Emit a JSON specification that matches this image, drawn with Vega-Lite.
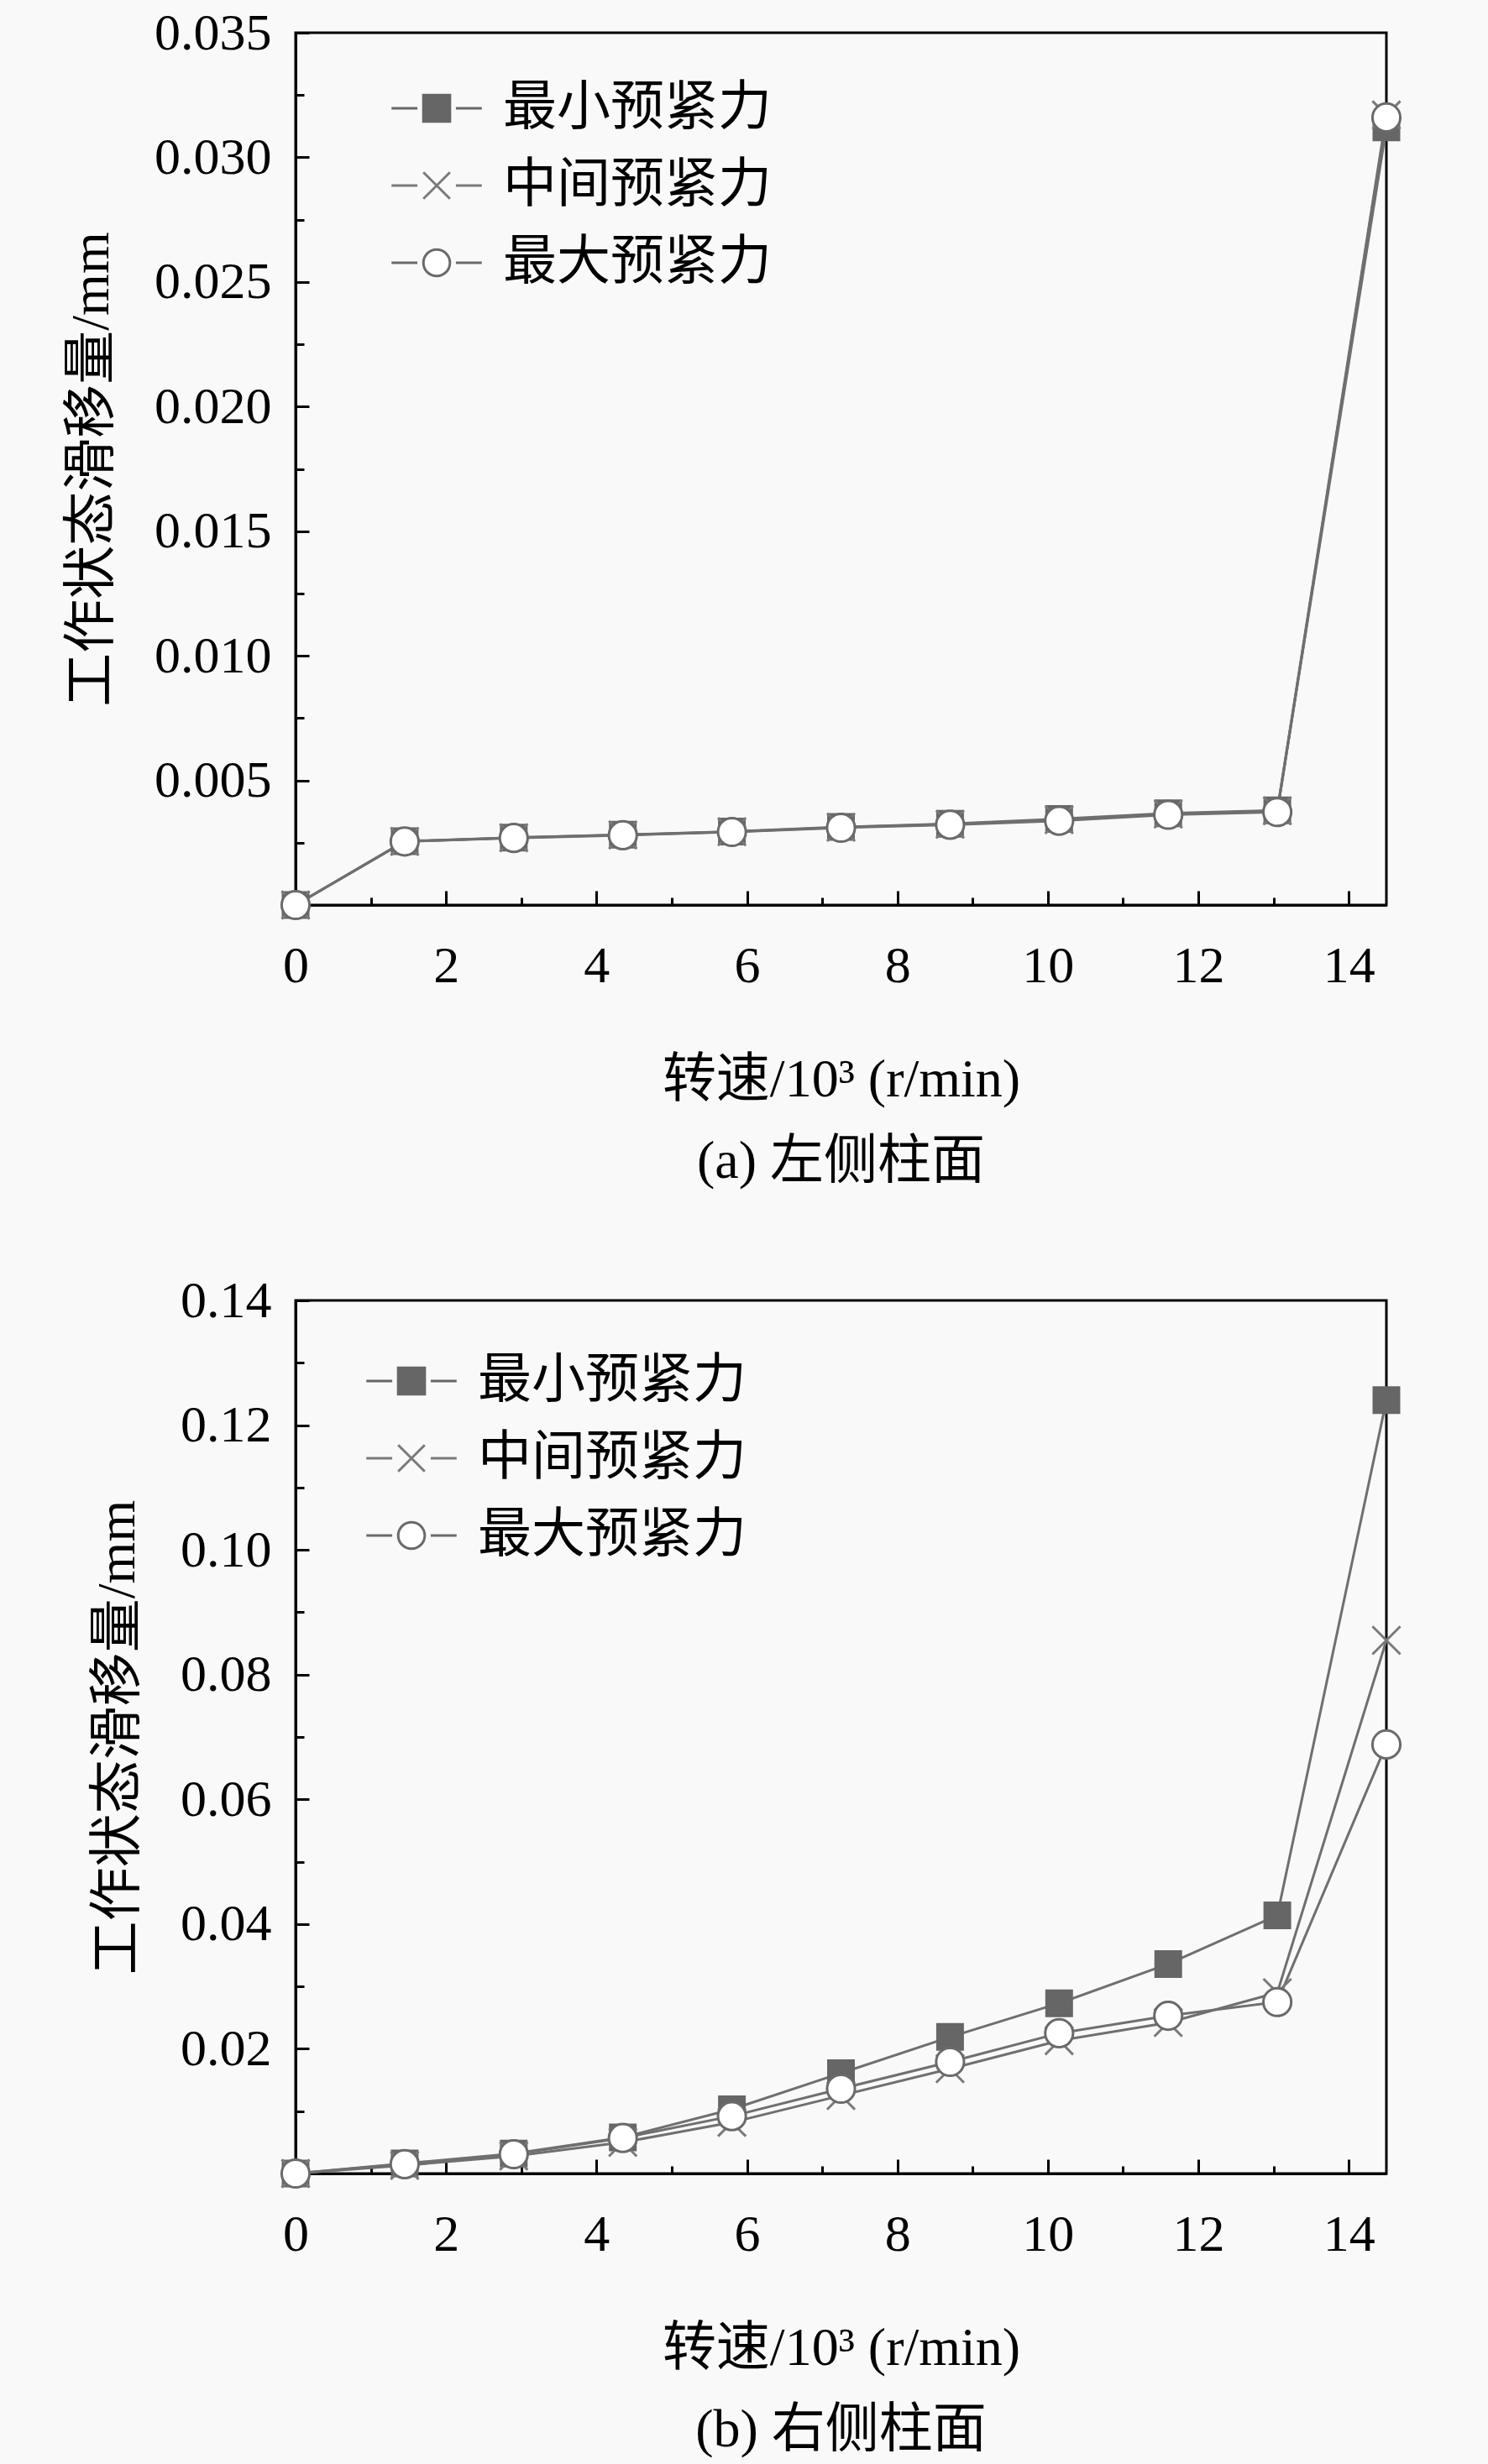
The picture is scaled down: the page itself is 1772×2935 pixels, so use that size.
{
  "$schema": "https://vega.github.io/schema/vega-lite/v6.json",
  "background": "#f9f9f9",
  "padding": {"left": 76, "top": 6, "right": 100, "bottom": 10},
  "datasets": {
    "a": [
      {"speed": 0, "series": "最小预紧力", "value": 0},
      {"speed": 1.45, "series": "最小预紧力", "value": 0.00256},
      {"speed": 2.9, "series": "最小预紧力", "value": 0.0027},
      {"speed": 4.35, "series": "最小预紧力", "value": 0.00282},
      {"speed": 5.8, "series": "最小预紧力", "value": 0.00295},
      {"speed": 7.25, "series": "最小预紧力", "value": 0.00313},
      {"speed": 8.7, "series": "最小预紧力", "value": 0.00326},
      {"speed": 10.15, "series": "最小预紧力", "value": 0.00345},
      {"speed": 11.6, "series": "最小预紧力", "value": 0.00368},
      {"speed": 13.05, "series": "最小预紧力", "value": 0.0038},
      {"speed": 14.5, "series": "最小预紧力", "value": 0.0312},
      {"speed": 0, "series": "中间预紧力", "value": 0},
      {"speed": 1.45, "series": "中间预紧力", "value": 0.00255},
      {"speed": 2.9, "series": "中间预紧力", "value": 0.0027},
      {"speed": 4.35, "series": "中间预紧力", "value": 0.00281},
      {"speed": 5.8, "series": "中间预紧力", "value": 0.00294},
      {"speed": 7.25, "series": "中间预紧力", "value": 0.00312},
      {"speed": 8.7, "series": "中间预紧力", "value": 0.00324},
      {"speed": 10.15, "series": "中间预紧力", "value": 0.00342},
      {"speed": 11.6, "series": "中间预紧力", "value": 0.00365},
      {"speed": 13.05, "series": "中间预紧力", "value": 0.00378},
      {"speed": 14.5, "series": "中间预紧力", "value": 0.0317},
      {"speed": 0, "series": "最大预紧力", "value": 0},
      {"speed": 1.45, "series": "最大预紧力", "value": 0.00255},
      {"speed": 2.9, "series": "最大预紧力", "value": 0.00269},
      {"speed": 4.35, "series": "最大预紧力", "value": 0.0028},
      {"speed": 5.8, "series": "最大预紧力", "value": 0.00293},
      {"speed": 7.25, "series": "最大预紧力", "value": 0.0031},
      {"speed": 8.7, "series": "最大预紧力", "value": 0.00322},
      {"speed": 10.15, "series": "最大预紧力", "value": 0.00338},
      {"speed": 11.6, "series": "最大预紧力", "value": 0.00362},
      {"speed": 13.05, "series": "最大预紧力", "value": 0.00373},
      {"speed": 14.5, "series": "最大预紧力", "value": 0.0316}
    ],
    "b": [
      {"speed": 0, "series": "最小预紧力", "value": 0},
      {"speed": 1.45, "series": "最小预紧力", "value": 0.0016},
      {"speed": 2.9, "series": "最小预紧力", "value": 0.0032},
      {"speed": 4.35, "series": "最小预紧力", "value": 0.0058},
      {"speed": 5.8, "series": "最小预紧力", "value": 0.0103},
      {"speed": 7.25, "series": "最小预紧力", "value": 0.0161},
      {"speed": 8.7, "series": "最小预紧力", "value": 0.0219},
      {"speed": 10.15, "series": "最小预紧力", "value": 0.0273},
      {"speed": 11.6, "series": "最小预紧力", "value": 0.0336},
      {"speed": 13.05, "series": "最小预紧力", "value": 0.0414},
      {"speed": 14.5, "series": "最小预紧力", "value": 0.124},
      {"speed": 0, "series": "中间预紧力", "value": 0},
      {"speed": 1.45, "series": "中间预紧力", "value": 0.0013},
      {"speed": 2.9, "series": "中间预紧力", "value": 0.0028},
      {"speed": 4.35, "series": "中间预紧力", "value": 0.005},
      {"speed": 5.8, "series": "中间预紧力", "value": 0.0082},
      {"speed": 7.25, "series": "中间预紧力", "value": 0.0125},
      {"speed": 8.7, "series": "中间预紧力", "value": 0.0168},
      {"speed": 10.15, "series": "中间预紧力", "value": 0.0213},
      {"speed": 11.6, "series": "中间预紧力", "value": 0.0242},
      {"speed": 13.05, "series": "中间预紧力", "value": 0.029},
      {"speed": 14.5, "series": "中间预紧力", "value": 0.0855},
      {"speed": 0, "series": "最大预紧力", "value": 0},
      {"speed": 1.45, "series": "最大预紧力", "value": 0.0015},
      {"speed": 2.9, "series": "最大预紧力", "value": 0.0031},
      {"speed": 4.35, "series": "最大预紧力", "value": 0.0057},
      {"speed": 5.8, "series": "最大预紧力", "value": 0.0092},
      {"speed": 7.25, "series": "最大预紧力", "value": 0.0136},
      {"speed": 8.7, "series": "最大预紧力", "value": 0.0179},
      {"speed": 10.15, "series": "最大预紧力", "value": 0.0225},
      {"speed": 11.6, "series": "最大预紧力", "value": 0.0253},
      {"speed": 13.05, "series": "最大预紧力", "value": 0.0275},
      {"speed": 14.5, "series": "最大预紧力", "value": 0.0688}
    ]
  },
  "spacing": 98,
  "vconcat": [
    {
      "width": 1299,
      "height": 1039,
      "data": {"name": "a"},
      "title": {"text": "(a) 左侧柱面", "orient": "bottom", "anchor": "middle", "frame": "group", "offset": 34},
      "resolve": {"axis": {"x": "independent", "y": "independent"}},
      "layer": [
        {
          "mark": {"type": "line", "color": "#6f6f6f", "strokeWidth": 3},
          "encoding": {
            "x": {"field": "speed", "type": "quantitative", "scale": {"domain": [0, 14.5], "nice": false},
              "axis": {"values": [0, 2, 4, 6, 8, 10, 12, 14], "format": "d", "title": "转速/10³ (r/min)", "tickSize": -17, "labelPadding": 59, "titlePadding": 73}},
            "y": {"field": "value", "type": "quantitative", "scale": {"domain": [0, 0.035], "nice": false},
              "axis": {"values": [0.005, 0.01, 0.015, 0.02, 0.025, 0.03, 0.035], "format": ".3f", "title": "工作状态滑移量/mm", "tickSize": -16, "labelPadding": 45, "titlePadding": 42}},
            "detail": {"field": "series"}
          }
        },
        {
          "transform": [{"filter": "datum.series === '最小预紧力'"}],
          "mark": {"type": "point", "shape": "square", "size": 960, "filled": true, "fill": "#666666", "stroke": "#666666", "strokeWidth": 2, "opacity": 1},
          "encoding": {
            "x": {"field": "speed", "type": "quantitative", "axis": null},
            "y": {"field": "value", "type": "quantitative", "axis": null}
          }
        },
        {
          "transform": [{"filter": "datum.series === '中间预紧力'"}],
          "mark": {"type": "point", "shape": "M-1,-1L1,1M1,-1L-1,1", "size": 1100, "filled": false, "stroke": "#7a7a7a", "strokeWidth": 3, "opacity": 1},
          "encoding": {
            "x": {"field": "speed", "type": "quantitative", "axis": null},
            "y": {"field": "value", "type": "quantitative", "axis": null}
          }
        },
        {
          "transform": [{"filter": "datum.series === '最大预紧力'"}],
          "mark": {"type": "point", "shape": "circle", "size": 1100, "fill": "#ffffff", "stroke": "#6a6a6a", "strokeWidth": 3, "opacity": 1},
          "encoding": {
            "x": {"field": "speed", "type": "quantitative", "axis": null},
            "y": {"field": "value", "type": "quantitative", "axis": null}
          }
        },
        {
          "mark": {"type": "point", "size": 1000, "strokeWidth": 3, "opacity": 0},
          "encoding": {
            "x": {"field": "speed", "type": "quantitative",
              "axis": {"values": [1, 3, 5, 7, 9, 11, 13], "labels": false, "domain": false, "title": null, "tickSize": -9, "orient": "bottom"}},
            "y": {"field": "value", "type": "quantitative",
              "axis": {"values": [0.0025, 0.0075, 0.0125, 0.0175, 0.0225, 0.0275, 0.0325], "labels": false, "domain": false, "title": null, "tickSize": -10, "orient": "left"}},
            "shape": {"field": "series", "type": "nominal",
              "scale": {"domain": ["最小预紧力", "中间预紧力", "最大预紧力"], "range": ["M-3.4,0H-1.45M1.45,0H3.4M-1,-1H1V1H-1Z", "M-3.4,0H-1.45M1.45,0H3.4M-1,-1L1,1M1,-1L-1,1", "M-3.4,0H-1.45M1.45,0H3.4M1,0A1,1,0,1,1,-1,0A1,1,0,1,1,1,0Z"]},
              "legend": {"orient": "none", "legendX": 136, "legendY": 58}},
            "fill": {"field": "series", "type": "nominal",
              "scale": {"domain": ["最小预紧力", "中间预紧力", "最大预紧力"], "range": ["#666666", "transparent", "#ffffff"]}},
            "stroke": {"field": "series", "type": "nominal",
              "scale": {"domain": ["最小预紧力", "中间预紧力", "最大预紧力"], "range": ["#666666", "#7a7a7a", "#6a6a6a"]}}
          }
        }
      ]
    },
    {
      "width": 1299,
      "height": 1040,
      "data": {"name": "b"},
      "title": {"text": "(b) 右侧柱面", "orient": "bottom", "anchor": "middle", "frame": "group", "offset": 34},
      "resolve": {"axis": {"x": "independent", "y": "independent"}},
      "layer": [
        {
          "mark": {"type": "line", "color": "#6f6f6f", "strokeWidth": 3},
          "encoding": {
            "x": {"field": "speed", "type": "quantitative", "scale": {"domain": [0, 14.5], "nice": false},
              "axis": {"values": [0, 2, 4, 6, 8, 10, 12, 14], "format": "d", "title": "转速/10³ (r/min)", "tickSize": -17, "labelPadding": 59, "titlePadding": 73}},
            "y": {"field": "value", "type": "quantitative", "scale": {"domain": [0, 0.14], "nice": false},
              "axis": {"values": [0.02, 0.04, 0.06, 0.08, 0.1, 0.12, 0.14], "format": ".2f", "title": "工作状态滑移量/mm", "tickSize": -16, "labelPadding": 45, "titlePadding": 42}},
            "detail": {"field": "series"}
          }
        },
        {
          "transform": [{"filter": "datum.series === '最小预紧力'"}],
          "mark": {"type": "point", "shape": "square", "size": 960, "filled": true, "fill": "#666666", "stroke": "#666666", "strokeWidth": 2, "opacity": 1},
          "encoding": {
            "x": {"field": "speed", "type": "quantitative", "axis": null},
            "y": {"field": "value", "type": "quantitative", "axis": null}
          }
        },
        {
          "transform": [{"filter": "datum.series === '中间预紧力'"}],
          "mark": {"type": "point", "shape": "M-1,-1L1,1M1,-1L-1,1", "size": 1100, "filled": false, "stroke": "#7a7a7a", "strokeWidth": 3, "opacity": 1},
          "encoding": {
            "x": {"field": "speed", "type": "quantitative", "axis": null},
            "y": {"field": "value", "type": "quantitative", "axis": null}
          }
        },
        {
          "transform": [{"filter": "datum.series === '最大预紧力'"}],
          "mark": {"type": "point", "shape": "circle", "size": 1100, "fill": "#ffffff", "stroke": "#6a6a6a", "strokeWidth": 3, "opacity": 1},
          "encoding": {
            "x": {"field": "speed", "type": "quantitative", "axis": null},
            "y": {"field": "value", "type": "quantitative", "axis": null}
          }
        },
        {
          "mark": {"type": "point", "size": 1000, "strokeWidth": 3, "opacity": 0},
          "encoding": {
            "x": {"field": "speed", "type": "quantitative",
              "axis": {"values": [1, 3, 5, 7, 9, 11, 13], "labels": false, "domain": false, "title": null, "tickSize": -9, "orient": "bottom"}},
            "y": {"field": "value", "type": "quantitative",
              "axis": {"values": [0.01, 0.03, 0.05, 0.07, 0.09, 0.11, 0.13], "labels": false, "domain": false, "title": null, "tickSize": -10, "orient": "left"}},
            "shape": {"field": "series", "type": "nominal",
              "scale": {"domain": ["最小预紧力", "中间预紧力", "最大预紧力"], "range": ["M-3.4,0H-1.45M1.45,0H3.4M-1,-1H1V1H-1Z", "M-3.4,0H-1.45M1.45,0H3.4M-1,-1L1,1M1,-1L-1,1", "M-3.4,0H-1.45M1.45,0H3.4M1,0A1,1,0,1,1,-1,0A1,1,0,1,1,1,0Z"]},
              "legend": {"orient": "none", "legendX": 106, "legendY": 64}},
            "fill": {"field": "series", "type": "nominal",
              "scale": {"domain": ["最小预紧力", "中间预紧力", "最大预紧力"], "range": ["#666666", "transparent", "#ffffff"]}},
            "stroke": {"field": "series", "type": "nominal",
              "scale": {"domain": ["最小预紧力", "中间预紧力", "最大预紧力"], "range": ["#666666", "#7a7a7a", "#6a6a6a"]}}
          }
        }
      ]
    }
  ],
  "resolve": {"scale": {"shape": "independent", "fill": "independent", "stroke": "independent"}, "legend": {"shape": "independent", "fill": "independent", "stroke": "independent"}},
  "config": {
    "view": {"stroke": "#000000", "strokeWidth": 3},
    "font": "Liberation Serif, Noto Sans CJK SC",
    "axis": {
      "grid": false,
      "domainColor": "#000000",
      "domainWidth": 3,
      "tickColor": "#000000",
      "tickWidth": 3,
      "labelFont": "Liberation Serif",
      "labelFontSize": 62,
      "labelColor": "#000000",
      "labelFlush": false,
      "labelOverlap": false,
      "titleFont": "Liberation Serif, Noto Sans CJK SC",
      "titleFontSize": 64,
      "titleFontWeight": "normal",
      "titleColor": "#000000"
    },
    "legend": {
      "title": null,
      "padding": 0,
      "labelFont": "Noto Sans CJK SC",
      "labelFontSize": 64,
      "labelColor": "#000000",
      "labelOffset": 47,
      "symbolSize": 1000,
      "symbolStrokeWidth": 3,
      "symbolOpacity": 1,
      "rowPadding": 28,
      "labelLimit": 0,
      "symbolLimit": 0
    },
    "title": {"font": "Liberation Serif, Noto Sans CJK SC", "fontSize": 64, "fontWeight": "normal", "color": "#000000"}
  }
}
